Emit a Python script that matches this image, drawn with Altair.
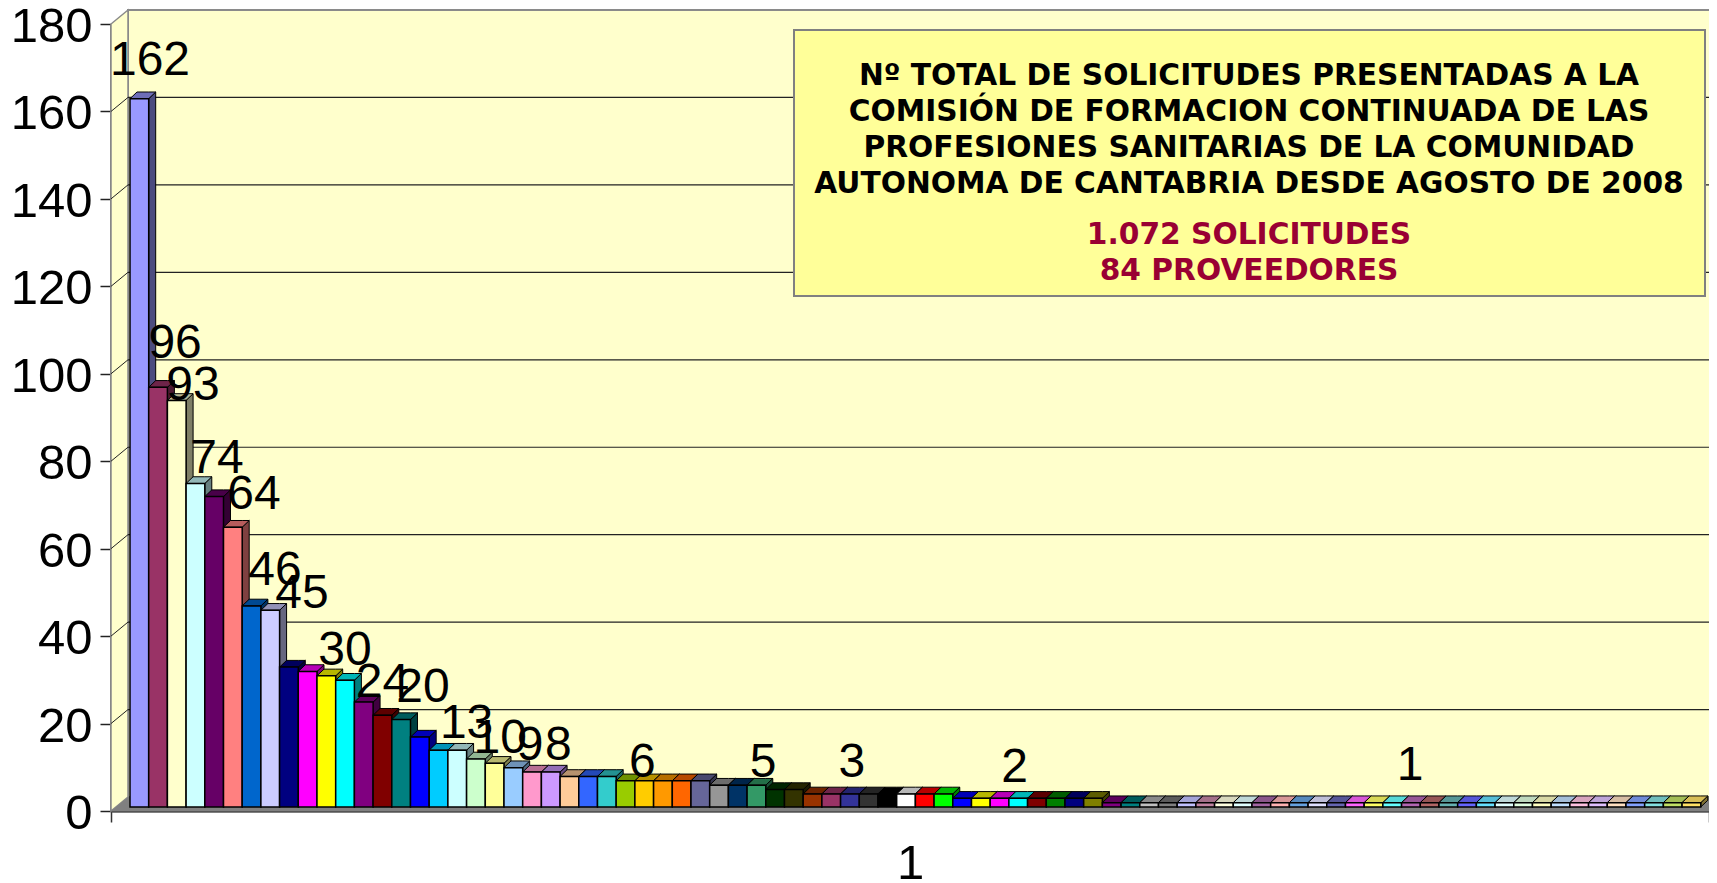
import altair as alt
import pandas as pd

# ---- data ----
values = [162, 96, 93, 74, 71, 64, 46, 45, 32, 31, 30, 29, 24, 21, 20, 16, 13, 13, 11, 10,
          9, 8, 8, 7, 7, 7, 6, 6, 6, 6, 6, 5, 5, 5, 4, 4, 3, 3, 3, 3, 3, 3, 3, 3,
          2, 2, 2, 2, 2, 2, 2, 2,
          1, 1, 1, 1, 1, 1, 1, 1, 1, 1, 1, 1, 1, 1, 1, 1, 1, 1, 1, 1, 1, 1, 1, 1, 1, 1, 1, 1, 1, 1, 1, 1]
palette = ["#9999FF", "#993366", "#FFFFCC", "#CCFFFF", "#660066", "#FF8080", "#0066CC", "#CCCCFF",
           "#000080", "#FF00FF", "#FFFF00", "#00FFFF", "#800080", "#800000", "#008080", "#0000FF",
           "#00CCFF", "#CCFFFF", "#CCFFCC", "#FFFF99", "#99CCFF", "#FF99CC", "#CC99FF", "#FFCC99",
           "#3366FF", "#33CCCC", "#99CC00", "#FFCC00", "#FF9900", "#FF6600", "#666699", "#969696",
           "#003366", "#339966", "#003300", "#333300", "#993300", "#993366", "#333399", "#333333",
           "#000000", "#FFFFFF", "#FF0000", "#00FF00", "#0000FF", "#FFFF00", "#FF00FF", "#00FFFF",
           "#800000", "#008000", "#000080", "#808000", "#800080", "#008080", "#C0C0C0", "#808080"]
label_texts = ["162", "96", "93", "74", "64", "46", "45", "30", "24", "20", "13", "10", "9", "8", "6", "5", "3", "2", "1"]
label_bars = [1.07, 2.41, 3.37, 4.65, 6.63, 7.75, 9.2, 11.5, 13.5, 15.67, 18.0, 19.8, 21.4, 22.9, 27.4, 33.85, 38.6, 47.3, 68.45]
label_heights = [168.4, 103.7, 94.1, 77.3, 69.1, 51.7, 46.5, 33.4, 26.1, 24.9, 16.7, 13.3, 11.7, 11.7, 7.8, 7.8, 7.8, 6.6, 7.1]
y_ticks = [0, 20, 40, 60, 80, 100, 120, 140, 160, 180]
title_lines = ["Nº TOTAL DE SOLICITUDES PRESENTADAS A LA",
               "COMISIÓN DE FORMACION CONTINUADA DE LAS",
               "PROFESIONES SANITARIAS DE LA COMUNIDAD",
               "AUTONOMA DE CANTABRIA DESDE AGOSTO DE 2008"]
note_lines = ["1.072 SOLICITUDES", "84 PROVEEDORES"]

# ---- layout ----
WIDTH, HEIGHT = 1598, 787
X_MIN, X_MAX = -1.016, 84.44
WALL_DX, WALL_DY = 0.909, 3.2      # depth of the side wall, in scale units
BAR_DX, BAR_DY = 0.374, 1.53       # depth of one bar
BAR_BASE = 0.915                   # the bars stand slightly behind the front edge
FONT = "Liberation Sans"


def shade(col, k):
    r, g, b = [int(col[i:i + 2], 16) for i in (1, 3, 5)]
    return "#%02x%02x%02x" % (int(r * k), int(g * k), int(b * k))


def tint(col, k):
    r, g, b = [int(col[i:i + 2], 16) for i in (1, 3, 5)]
    return "#%02x%02x%02x" % tuple(int(c + (255 - c) * k) for c in (r, g, b))


bar_colors = [palette[i % 56] if i < 56 else tint(palette[i % 56], 0.4) for i in range(len(values))]

fronts, sides, tops = [], [], []
for i, (v, c) in enumerate(zip(values, bar_colors)):
    L, R = float(i), i + 1.0
    base, top = BAR_BASE, v + BAR_BASE
    fronts.append(dict(b=i, x=L, x2=R, y=base, y2=top, c=c))
    s, t = shade(c, 0.5), shade(c, 0.72 if i < 56 else 0.85)
    sides += [dict(b=i, x=R, y=base, y2=top, c=s),
              dict(b=i, x=R + BAR_DX, y=base + BAR_DY, y2=top + BAR_DY, c=s)]
    tops += [dict(b=i, x=L, y=top, y2=top, c=t),
             dict(b=i, x=L + BAR_DX, y=top + BAR_DY, y2=top, c=t),
             dict(b=i, x=R, y=top + BAR_DY, y2=top, c=t),
             dict(b=i, x=R + BAR_DX, y=top + BAR_DY, y2=top + BAR_DY, c=t)]

X_RIGHT = X_MAX + WALL_DX
x_enc = alt.X("x:Q", scale=alt.Scale(domain=[X_MIN, X_MAX], nice=False, zero=False),
              axis=alt.Axis(values=[X_MIN, X_MAX], labels=False, tickSize=11, tickColor="#333333", tickWidth=1.5,
                            domainColor="#555555", domainWidth=2.5, grid=False, title="1",
                            titleFont=FONT, titleFontSize=49, titleFontWeight="normal", titleColor="black",
                            titlePadding=17))
y_enc = alt.Y("y:Q", scale=alt.Scale(domain=[0, 180], nice=False),
              axis=alt.Axis(values=y_ticks, tickSize=11, tickColor="#222222", tickWidth=1.5,
                            domainColor="#555555", domainWidth=2.5, grid=False, title=None,
                            labelFont=FONT, labelFontSize=49, labelColor="black", labelPadding=8,
                            labelOffset=2.5))
color_id = alt.Color("c:N", scale=None)

# back wall, side wall, floor
back = pd.DataFrame([dict(x=X_MIN + WALL_DX, x2=X_RIGHT, y=WALL_DY, y2=180 + WALL_DY)])
wall = alt.Chart(back).mark_rect(fill="#FFFFCC", stroke="#8a8a8a", strokeWidth=2, clip=False).encode(
    x=x_enc, x2="x2:Q", y=y_enc, y2="y2:Q")
side_wall_df = pd.DataFrame([dict(x=X_MIN, y=0, y2=180), dict(x=X_MIN + WALL_DX, y=WALL_DY, y2=180 + WALL_DY)])
side_wall = alt.Chart(side_wall_df).mark_area(fill="#FFFFCC", stroke="#8a8a8a", strokeWidth=1.5).encode(
    x=x_enc, y=y_enc, y2="y2:Q")
floor_df = pd.DataFrame([dict(x=X_MIN, y=0, y2=0), dict(x=X_MIN + WALL_DX, y=WALL_DY, y2=0),
                         dict(x=X_MAX, y=WALL_DY, y2=0), dict(x=X_RIGHT, y=WALL_DY, y2=WALL_DY)])
floor = alt.Chart(floor_df).mark_area(fill="#808080").encode(x=x_enc, y=y_enc, y2="y2:Q")

grid_vals = [t for t in y_ticks if 0 < t < 180]
grid_back = alt.Chart(pd.DataFrame(dict(y=[t + WALL_DY for t in grid_vals], x=[X_MIN + WALL_DX] * len(grid_vals),
                                        x2=[X_RIGHT] * len(grid_vals)))).mark_rule(
    color="#222222", strokeWidth=1.2).encode(x=x_enc, x2="x2:Q", y=y_enc)
grid_side_rows = []
for t in grid_vals:
    grid_side_rows += [dict(t=t, x=X_MIN, y=t), dict(t=t, x=X_MIN + WALL_DX, y=t + WALL_DY)]
grid_side = alt.Chart(pd.DataFrame(grid_side_rows)).mark_line(color="#222222", strokeWidth=1).encode(
    x=x_enc, y=y_enc, detail="t:N")

side_layer = alt.Chart(pd.DataFrame(sides)).mark_area(stroke="black", strokeWidth=1).encode(
    x=x_enc, y=y_enc, y2="y2:Q", detail="b:N", fill=color_id)
top_layer = alt.Chart(pd.DataFrame(tops)).mark_area(stroke="black", strokeWidth=1).encode(
    x=x_enc, y=y_enc, y2="y2:Q", detail="b:N", fill=color_id)
front_layer = alt.Chart(pd.DataFrame(fronts)).mark_rect(stroke="black", strokeWidth=1.5).encode(
    x=x_enc, x2="x2:Q", y=y_enc, y2="y2:Q", fill=color_id)

labels = alt.Chart(pd.DataFrame(dict(x=label_bars, y=label_heights, t=label_texts))).mark_text(
    font=FONT, fontSize=48, color="black", align="center", baseline="alphabetic").encode(
    x=x_enc, y=y_enc, text="t:N")

# annotation box (plot-area pixels)
box = alt.Chart(pd.DataFrame([dict(a=1)])).mark_rect(fill="#FFFF99", stroke="#808080", strokeWidth=2).encode(
    x=alt.value(683), x2=alt.value(1594), y=alt.value(6), y2=alt.value(272))
BOX_X = 1138


def text_layer(line, py, color):
    return alt.Chart(pd.DataFrame([dict(t=line)])).mark_text(
        font="DejaVu Sans", fontWeight="bold", fontSize=29.7, color=color, align="center", baseline="middle"
    ).encode(x=alt.value(BOX_X), y=alt.value(py), text="t:N")


box_text = [text_layer(l, p, "black") for l, p in zip(title_lines, [52, 88, 123.5, 159.5])]
box_text += [text_layer(l, p, "#990033") for l, p in zip(note_lines, [210.5, 246.5])]

chart = alt.layer(wall, side_wall, floor, grid_back, grid_side, side_layer, top_layer, front_layer,
                  labels, box, *box_text).properties(
    width=WIDTH, height=HEIGHT, background="white",
    autosize=alt.AutoSizeParams(type="none"),
    padding={"left": 103, "top": 16, "right": 0, "bottom": 72},
).configure_view(stroke=None).configure_axis(labelOverlap=False)

chart.save("out.html", embed_options={"renderer": "svg", "actions": False})
